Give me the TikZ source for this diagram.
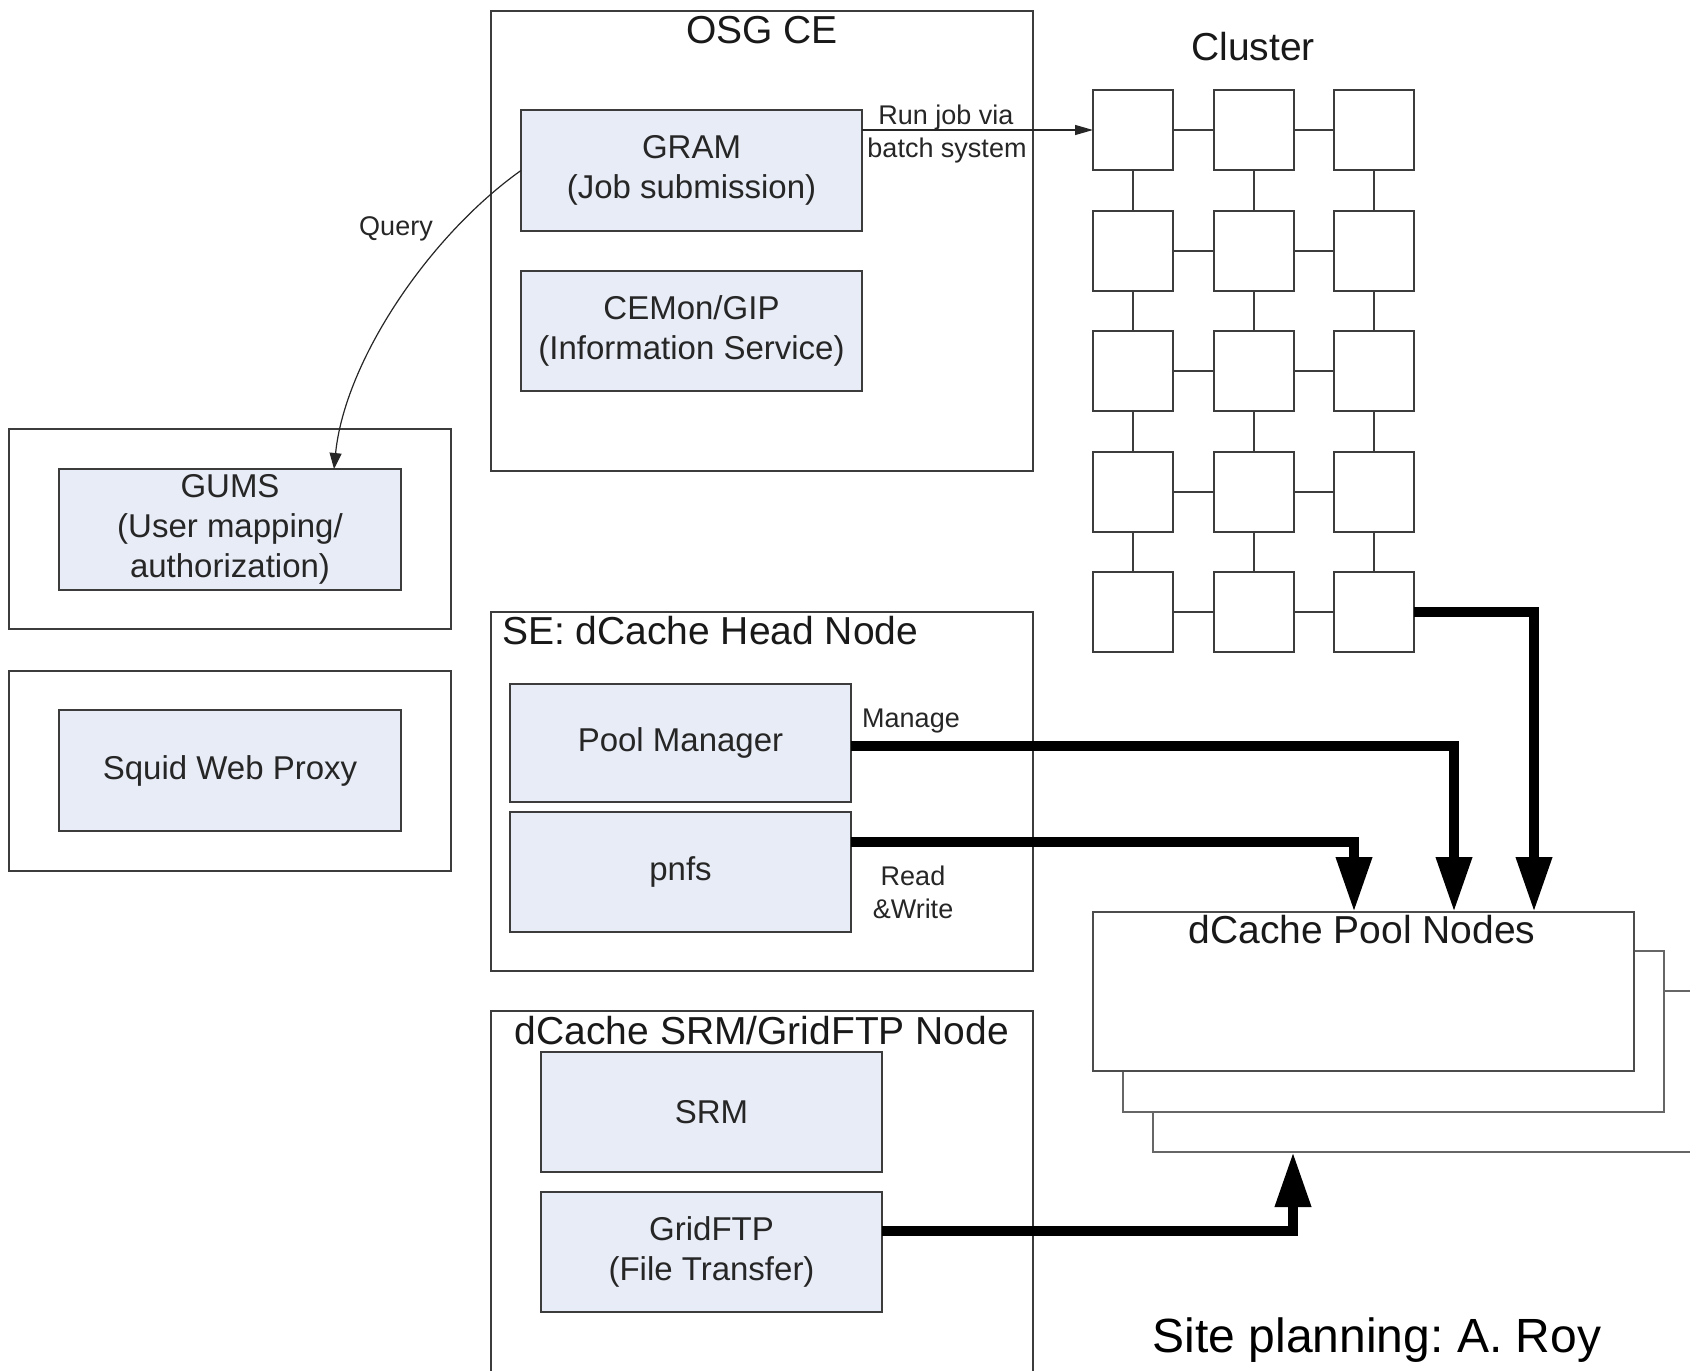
\documentclass[tikz,border=0pt]{standalone}
\usepackage{fontspec}
\setmainfont{Liberation Sans}
\usetikzlibrary{arrows.meta}
\definecolor{boxfill}{RGB}{232,236,246}
\definecolor{edge}{RGB}{60,60,60}
\definecolor{txt}{RGB}{38,38,38}
\frenchspacing
\begin{document}
\begin{tikzpicture}[x=1pt,y=-1pt,
  every node/.style={inner sep=0pt, outer sep=0pt},
  outerbox/.style={draw=edge, line width=2pt, fill=white, rectangle},
  innerbox/.style={draw=edge, line width=2pt, fill=boxfill, rectangle, text=txt, align=center,
     font=\fontsize{33}{40}\selectfont},
  cnode/.style={draw=edge, line width=2pt, fill=white, rectangle, minimum width=80pt, minimum height=80pt},
  title/.style={font=\fontsize{39}{45}\selectfont, text=black!90, anchor=base},
  lbl/.style={font=\fontsize{27}{32}\selectfont, text=txt, anchor=base},
  link/.style={draw=edge, line width=2pt},
  thin/.style={draw=black!85, line width=1.2pt},
  bigarrow/.style={line width=10pt, -{Triangle[width=34pt,length=55pt]}},
]
\useasboundingbox (0,0) rectangle (1690,1371);
\clip (0,0) rectangle (1690,1371);
\fill[white] (0,0) rectangle (1690,1371);

% OSG CE
\node[outerbox, minimum width=542pt, minimum height=460pt] (osg) at (762,241) {};
\node[title] (osgt) at (762,43) {OSG CE};
\node[innerbox, minimum width=341pt, minimum height=121pt] (gram) at (691.5,170.5) {GRAM\\(Job submission)};
\node[innerbox, minimum width=341pt, minimum height=120pt] (cemon) at (691.5,331) {CEMon/GIP\\(Information Service)};

% GUMS and Squid
\node[outerbox, minimum width=442pt, minimum height=200pt] (gumsout) at (230,529) {};
\node[innerbox, minimum width=342pt, minimum height=121pt] (gums) at (230,529.5) {GUMS\\(User mapping/\\authorization)};
\node[outerbox, minimum width=442pt, minimum height=200pt] (squidout) at (230,771) {};
\node[innerbox, minimum width=342pt, minimum height=121pt] (squid) at (230,770.5) {Squid Web Proxy};

% SE head node
\node[outerbox, minimum width=542pt, minimum height=359pt] (se) at (762,791.5) {};
\node[title, anchor=base west] (set) at (502,644) {SE: dCache Head Node};
\node[innerbox, minimum width=341pt, minimum height=118pt] (pm) at (680.5,743) {Pool Manager};
\node[innerbox, minimum width=341pt, minimum height=120pt] (pnfs) at (680.5,872) {pnfs};

% SRM / GridFTP node
\node[outerbox, minimum width=542pt, minimum height=369pt] (srmout) at (762,1195.5) {};
\node[title] (srmt) at (762,1044) {dCache SRM/GridFTP Node};
\node[innerbox, minimum width=341pt, minimum height=120pt] (srm) at (711.5,1112) {SRM};
\node[innerbox, minimum width=341pt, minimum height=120pt] (gridftp) at (711.5,1252) {GridFTP\\(File Transfer)};

% Pool nodes stack
\node[outerbox, draw=black!60, minimum width=547pt, minimum height=161pt] (pool3) at (1426.5,1071.5) {};
\node[outerbox, draw=black!60, minimum width=541pt, minimum height=161pt] (pool2) at (1393.5,1031.5) {};
\node[outerbox, draw=black!70, minimum width=541pt, minimum height=159pt] (pool) at (1363.5,991.5) {};
\node[title] (poolt) at (1362,943) {dCache Pool Nodes};

% Cluster
\node[title] (clt) at (1253,60) {Cluster};
\foreach \r/\y in {1/130,2/250.5,3/371,4/491.5,5/612}{
  \foreach \c/\x in {1/1133,2/1253.5,3/1374}{
    \node[cnode] (c\r\c) at (\x,\y) {};
  }
}
\foreach \r in {1,...,5}{
  \draw[link] (c\r1) -- (c\r2);
  \draw[link] (c\r2) -- (c\r3);
}
\foreach \r/\s in {1/2,2/3,3/4,4/5}{
  \foreach \c in {1,2,3}{
    \draw[link] (c\r\c) -- (c\s\c);
  }
}

% Run job arrow
\draw[thin, -{Triangle[width=10pt,length=18pt]}] (c11.west -| gram.east) -- (c11.west);
\node[lbl] (runa) at (946,124) {Run job via};
\node[lbl] (runb) at (947,157) {batch system};

% Query arrow
\draw[thin, -{Triangle[width=12pt,length=16pt]}] (gram.west) .. controls (430,235) and (345,360) .. ([xshift=-67pt]gums.north east);
\node[lbl] (query) at (396,235) {Query};

% Thick arrows to pool nodes
\draw[bigarrow] (c53.east) -| ([xshift=-100pt]pool.north east);
\draw[bigarrow] ([yshift=-3pt]pm.east) -| ([xshift=-180pt]pool.north east);
\draw[bigarrow] ([yshift=30pt]pnfs.east) -| ([xshift=261pt]pool.north west);
\draw[bigarrow] ([yshift=21pt]gridftp.east) -| ([xshift=140pt]pool3.south west);

\node[lbl] (manage) at (911,727) {Manage};
\node[lbl] (read) at (913,885) {Read};
\node[lbl] (write) at (913,918) {\&Write};

% Credit
\node[font=\fontsize{48}{56}\selectfont, anchor=base] (credit) at (1377,1352) {Site planning: A. Roy};
\end{tikzpicture}
\end{document}
